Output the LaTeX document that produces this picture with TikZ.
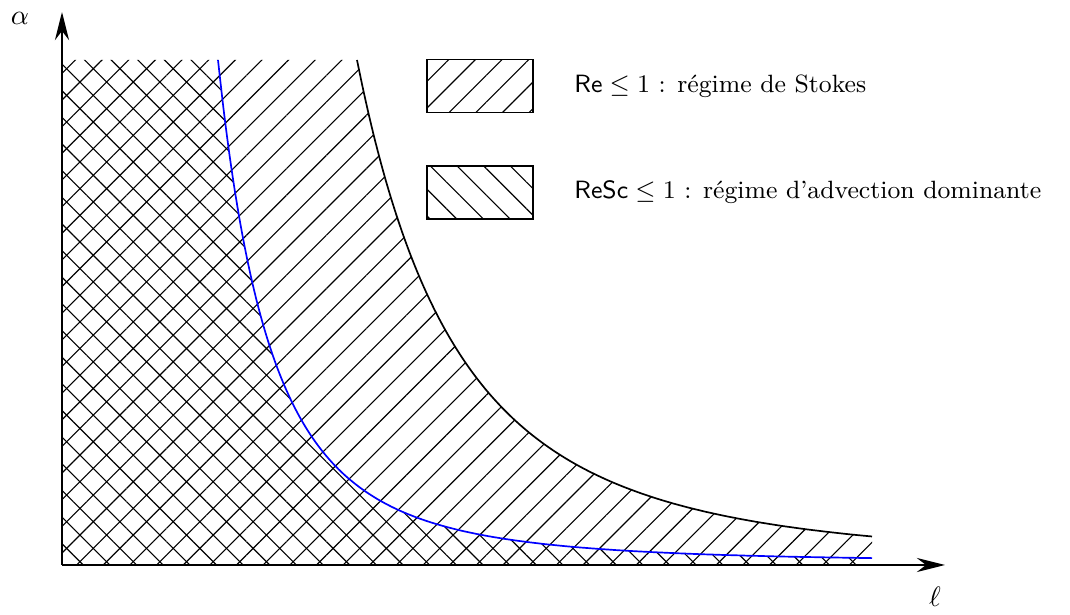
\documentclass[tikz,border=0pt]{standalone}
\usepackage{fontspec}
\usetikzlibrary{arrows.meta, positioning, patterns.meta}

% limit curves, in picture units
\newcommand{\stokescurve}{plot[domain=357:872, samples=90, smooth] (\x, {limite(\x,295)})}
\newcommand{\advectcurve}{plot[domain=218:872, samples=120, smooth] (\x, {limite(\x,156)})}

\begin{document}
\begin{tikzpicture}[x=0.0125cm, y=-0.0125cm,
    font=\fontsize{8.9pt}{11pt}\selectfont,
    declare function={limite(\x,\a)=562-502*pow((\x-62)/\a,-2.95);},
    axisline/.style={line width=0.8pt, -{Stealth[length=10pt, width=5pt]}},
    limit/.style={line width=0.6pt},
    stokeshatch/.style={pattern={Lines[angle=45, distance=6.7pt, line width=0.4pt]}},
    advecthatch/.style={pattern={Lines[angle=-45, distance=6.7pt, line width=0.4pt]}},
    legendbox/.style={draw, line width=0.7pt, minimum width=1.325cm, minimum height=0.6625cm, inner sep=0pt}]
        \useasboundingbox (0,0) rectangle (1070,615);
        % Regions
        \fill[stokeshatch] \stokescurve -- (872,565) -- (62,565) -- (62,60) -- cycle;
        \fill[advecthatch] \advectcurve -- (872,565) -- (62,565) -- (62,60) -- cycle;
        \draw[limit] \stokescurve;
        \draw[limit, blue] \advectcurve;
        % Axes
        \coordinate (origin) at (62,565);
        \coordinate (ytop) at (62,12);
        \coordinate (xend) at (945,565);
        \draw[axisline] (origin) -- (ytop);
        \draw[axisline] (origin) -- (xend);
        \node[font=\normalsize] (alpha) at (20,18) {$\alpha$};
        \node[font=\normalsize] (ell) at (935,597) {$\ell$};
        % Legend
        \node[legendbox, stokeshatch] (stokesbox) at (480,86) {};
        \node[legendbox, advecthatch] (advectbox) at (480,192.5) {};
        \node[right=0.38cm of stokesbox] (stokeslabel) {$\mathsf{Re}\leq 1$ : régime de Stokes};
        \node[right=0.38cm of advectbox] (advectlabel) {$\mathsf{ReSc}\leq 1$ : régime d'advection dominante};
    \end{tikzpicture}
\end{document}
